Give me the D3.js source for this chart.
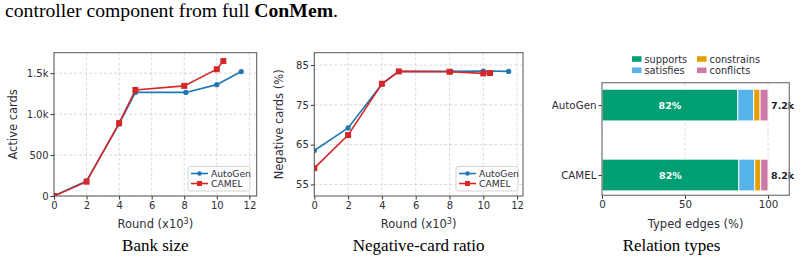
<!DOCTYPE html>
<html>
<head>
<meta charset="utf-8">
<script src="https://cdn.jsdelivr.net/npm/d3@7"></script>
<style>
  body { margin: 0; background: #fff; }
  svg text { font-family: "DejaVu Sans", sans-serif; }
  .serif { font-family: "Liberation Serif", "Times New Roman", serif !important; }
</style>
</head>
<body>
<svg id="fig" width="801" height="261"></svg>
<script>
// ---- data ----
const seriesNames = ["AutoGen", "CAMEL"];
const roundsAutoGen = [0, 2, 4, 5, 8.1, 10, 11.5];
const roundsCamel = [0, 2, 4, 5, 8, 10, 10.4];
const bankAutoGen = [0, 185, 880, 1265, 1265, 1360, 1520];
const bankCamel = [0, 175, 890, 1295, 1345, 1548, 1648];
const negAutoGen = [63.5, 69.2, 80.2, 83.4, 83.4, 83.5, 83.4];
const negCamel = [59.1, 67.4, 80.3, 83.4, 83.3, 82.9, 83.0];

const roundTicks = [0, 2, 4, 6, 8, 10, 12];
const bankTicks = [0, 500, 1000, 1500];
const bankTickLabels = ["0", "500", "1.0k", "1.5k"];
const negTicks = [55, 65, 75, 85];

const relTypes = ["supports", "satisfies", "constrains", "conflicts"];
const relAutoGen = [81.8, 9.6, 3.8, 4.8];
const relCamel = [82.4, 9.6, 3.6, 4.4];
const relTotals = ["7.2k", "8.2k"];
const relTicks = [0, 50, 100];

const lineColors = ["#1f77b4", "#d62728"];
const relColors = ["#009e73", "#56b4e9", "#e69f00", "#cc79a7"];
const textColor = "#2e2e38";
const spineColor = "#555";

const svg = d3.select("#fig");
svg.append("rect").attr("width", 801).attr("height", 261).attr("fill", "#fff");

// caption line at top
svg.append("text").attr("class", "serif")
  .attr("x", 5).attr("y", 17)
  .attr("font-size", 19.7).attr("fill", "#000")
  .call(t => {
    t.append("tspan").text("controller component from full ");
    t.append("tspan").attr("font-weight", "bold").text("ConMem");
    t.append("tspan").text(".");
  });

function roundLabel(g, x, y) {
  const t = g.append("text").attr("x", x).attr("y", y)
    .attr("text-anchor", "middle").attr("font-size", 11.5).attr("fill", textColor);
  t.append("tspan").text("Round (x10");
  t.append("tspan").attr("font-size", 8).attr("dy", -4.5).text("3");
  t.append("tspan").attr("dy", 4.5).text(")");
}

function linePanel(opt) {
  const g = svg.append("g");
  const x = d3.scaleLinear().domain(opt.xDomain).range([opt.left, opt.right]);
  const y = d3.scaleLinear().domain(opt.yDomain).range([opt.bottom, opt.top]);

  // grid
  g.append("g").selectAll("line").data(roundTicks).join("line")
    .attr("x1", d => x(d)).attr("x2", d => x(d))
    .attr("y1", opt.top).attr("y2", opt.bottom)
    .attr("stroke", "#d0d0d0").attr("stroke-width", 0.8).attr("stroke-dasharray", "3,2");
  g.append("g").selectAll("line").data(opt.yTicks).join("line")
    .attr("x1", opt.left).attr("x2", opt.right)
    .attr("y1", d => y(d)).attr("y2", d => y(d))
    .attr("stroke", "#d0d0d0").attr("stroke-width", 0.8).attr("stroke-dasharray", "3,2");

  const clipId = "clip" + opt.id;
  svg.append("clipPath").attr("id", clipId).append("rect")
    .attr("x", opt.left).attr("y", opt.top)
    .attr("width", opt.right - opt.left).attr("height", opt.bottom - opt.top);

  const data = [
    opt.xs[0].map((d, i) => [d, opt.ys[0][i]]),
    opt.xs[1].map((d, i) => [d, opt.ys[1][i]])
  ];
  const line = d3.line().x(d => x(d[0])).y(d => y(d[1]));
  const plot = g.append("g").attr("clip-path", `url(#${clipId})`);
  data.forEach((s, k) => {
    plot.append("path").datum(s).attr("d", line)
      .attr("fill", "none").attr("stroke", lineColors[k]).attr("stroke-width", 1.6);
    if (k === 0) {
      plot.selectAll(null).data(s).join("circle")
        .attr("cx", d => x(d[0])).attr("cy", d => y(d[1])).attr("r", 2.6)
        .attr("fill", lineColors[k]);
    } else {
      plot.selectAll(null).data(s).join("rect")
        .attr("x", d => x(d[0]) - 3).attr("y", d => y(d[1]) - 3)
        .attr("width", 6).attr("height", 6).attr("fill", lineColors[k]);
    }
  });

  // axes
  const xAxis = d3.axisBottom(x).tickValues(roundTicks).tickSize(3.5).tickPadding(2);
  const yAxis = d3.axisLeft(y).tickValues(opt.yTicks).tickSize(3.5).tickPadding(2)
    .tickFormat((d, i) => opt.yLabels ? opt.yLabels[i] : d);
  const xa = g.append("g").attr("transform", `translate(0,${opt.bottom})`).call(xAxis);
  const ya = g.append("g").attr("transform", `translate(${opt.left},0)`).call(yAxis);
  [xa, ya].forEach(a => {
    a.select(".domain").remove();
    a.selectAll("line").attr("stroke", textColor);
    a.selectAll("text").attr("font-size", 10).attr("fill", textColor)
      .attr("font-family", "DejaVu Sans");
  });

  g.append("rect").attr("x", opt.left).attr("y", opt.top)
    .attr("width", opt.right - opt.left).attr("height", opt.bottom - opt.top)
    .attr("fill", "none").attr("stroke", spineColor).attr("stroke-width", 1);

  roundLabel(g, (opt.left + opt.right) / 2, 228);
  g.append("text")
    .attr("transform", `translate(${opt.ylabelX},${(opt.top + opt.bottom) / 2}) rotate(-90)`)
    .attr("text-anchor", "middle").attr("font-size", 11.5).attr("fill", textColor)
    .text(opt.ylabel);

  // legend
  const lg = g.append("g").attr("transform", `translate(${opt.legendX},166.5)`);
  lg.append("rect").attr("width", 62).attr("height", 24.5).attr("rx", 2)
    .attr("fill", "#fff").attr("fill-opacity", 0.85).attr("stroke", "#c8c8c8").attr("stroke-width", 0.8);
  seriesNames.forEach((n, k) => {
    const cy = 7 + k * 10;
    lg.append("line").attr("x1", 3).attr("x2", 20).attr("y1", cy).attr("y2", cy)
      .attr("stroke", lineColors[k]).attr("stroke-width", 1.6);
    if (k === 0) lg.append("circle").attr("cx", 11.5).attr("cy", cy).attr("r", 2.3).attr("fill", lineColors[k]);
    else lg.append("rect").attr("x", 9).attr("y", cy - 2.5).attr("width", 5).attr("height", 5).attr("fill", lineColors[k]);
    lg.append("text").attr("x", 23).attr("y", cy + 3.2).attr("font-size", 9.2)
      .attr("fill", textColor).text(n);
  });

  svg.append("text").attr("class", "serif").attr("x", (opt.left + opt.right) / 2).attr("y", 251)
    .attr("text-anchor", "middle").attr("font-size", 17).attr("fill", "#000").text(opt.caption);
}

linePanel({
  id: 1, left: 54, right: 256.7, top: 52.7, bottom: 196,
  xDomain: [0, 12.45], yDomain: [0, 1750],
  xs: [roundsAutoGen, roundsCamel], ys: [bankAutoGen, bankCamel],
  yTicks: bankTicks, yLabels: bankTickLabels,
  ylabel: "Active cards", ylabelX: 17, legendX: 188, caption: "Bank size"
});

linePanel({
  id: 2, left: 314.3, right: 523, top: 52.7, bottom: 196,
  xDomain: [0, 12.35], yDomain: [52.1, 88.1],
  xs: [roundsAutoGen, roundsCamel], ys: [negAutoGen, negCamel],
  yTicks: negTicks, yLabels: null,
  ylabel: "Negative cards (%)", ylabelX: 283, legendX: 456, caption: "Negative-card ratio"
});

// ---- relation types panel ----
(function () {
  const left = 602, right = 789.3, top = 82.7, bottom = 195.3;
  const g = svg.append("g");
  const x = d3.scaleLinear().domain([0, 112.8]).range([left, right]);
  const y = d3.scaleLinear().domain([-0.32, 1.29]).range([top, bottom]);
  const barH = 31.7;

  g.append("g").selectAll("line").data(relTicks).join("line")
    .attr("x1", d => x(d)).attr("x2", d => x(d))
    .attr("y1", top).attr("y2", bottom)
    .attr("stroke", "#d0d0d0").attr("stroke-width", 0.8).attr("stroke-dasharray", "3,2");

  const rows = [relAutoGen, relCamel];
  rows.forEach((vals, r) => {
    let acc = 0;
    const segs = vals.map((v, i) => { const s = { x0: acc, x1: acc + v, i }; acc += v; return s; });
    g.append("g").selectAll("rect").data(segs).join("rect")
      .attr("x", d => x(d.x0)).attr("width", d => x(d.x1) - x(d.x0))
      .attr("y", y(r) - barH / 2).attr("height", barH)
      .attr("fill", d => relColors[d.i]).attr("stroke", "#fff").attr("stroke-width", 0.9);
    g.append("text").attr("x", x(vals[0] / 2)).attr("y", y(r) + 3.6)
      .attr("text-anchor", "middle").attr("font-size", 9.5).attr("font-weight", "bold")
      .attr("fill", "#fff").text(Math.round(vals[0]) + "%");
    g.append("text").attr("x", x(acc) + 3).attr("y", y(r) + 3.6)
      .attr("font-size", 9.5).attr("font-weight", "bold")
      .attr("fill", "#1c1c2c").text(relTotals[r]);
  });

  const xa = g.append("g").attr("transform", `translate(0,${bottom})`)
    .call(d3.axisBottom(x).tickValues(relTicks).tickSize(3.5).tickPadding(2));
  const ya = g.append("g").attr("transform", `translate(${left},0)`)
    .call(d3.axisLeft(y).tickValues([0, 1]).tickSize(3.5).tickPadding(2)
      .tickFormat(d => seriesNames[d]));
  [xa, ya].forEach(a => {
    a.select(".domain").remove();
    a.selectAll("line").attr("stroke", textColor);
    a.selectAll("text").attr("font-size", 10.3).attr("fill", textColor)
      .attr("font-family", "DejaVu Sans");
  });
  g.append("rect").attr("x", left).attr("y", top)
    .attr("width", right - left).attr("height", bottom - top)
    .attr("fill", "none").attr("stroke", "#777").attr("stroke-width", 1.2);

  g.append("text").attr("x", (left + right) / 2).attr("y", 228)
    .attr("text-anchor", "middle").attr("font-size", 11.5).attr("fill", textColor)
    .text("Typed edges (%)");

  // legend, two columns
  const lg = g.append("g");
  relTypes.forEach((n, i) => {
    const cx = i < 2 ? 632 : 697;
    const cy = i % 2 === 0 ? 59 : 70.3;
    lg.append("rect").attr("x", cx).attr("y", cy - 2.8).attr("width", 9.5).attr("height", 5.6)
      .attr("fill", relColors[i]);
    lg.append("text").attr("x", cx + 12.5).attr("y", cy + 3.5).attr("font-size", 9.8)
      .attr("fill", textColor).text(n);
  });

  svg.append("text").attr("class", "serif").attr("x", 671.5).attr("y", 251)
    .attr("text-anchor", "middle").attr("font-size", 17).attr("fill", "#000").text("Relation types");
})();
</script>
</body>
</html>
